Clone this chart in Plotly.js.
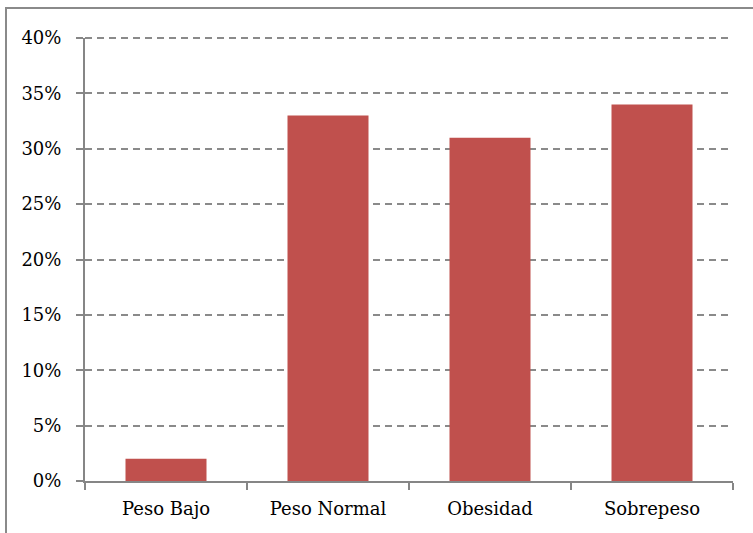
<!DOCTYPE html>
<html>
<head>
<meta charset="utf-8">
<script src="https://cdn.plot.ly/plotly-3.0.1.min.js"></script>
<style>html,body{margin:0;padding:0;background:#fff;}#chart{width:753px;height:533px;}</style>
</head>
<body>
<div id="chart"></div>
<script>
const categories = ["Peso Bajo", "Peso Normal", "Obesidad", "Sobrepeso"];
const values = [0.02, 0.33, 0.31, 0.34];
const yTickVals = [0, 0.05, 0.10, 0.15, 0.20, 0.25, 0.30, 0.35, 0.40];

const W = 753, H = 533;
const m = {l: 85, r: 20, t: 38, b: 52};
const pw = W - m.l - m.r, ph = H - m.t - m.b;
const px = v => (v - m.l) / pw;
const py = v => 1 - (v - m.t) / ph;
const yMax = yTickVals[yTickVals.length - 1];

const data = [{
  type: "bar",
  x: categories,
  y: values,
  marker: {color: "#C0504D"},
  hoverinfo: "x+y"
}];

const layout = {
  width: W, height: H,
  margin: m,
  paper_bgcolor: "#fff",
  plot_bgcolor: "#fff",
  showlegend: false,
  bargap: 0.5,
  font: {family: "DejaVu Serif", size: 18, color: "#000"},
  xaxis: {
    type: "category",
    showline: true, linecolor: "#868686", linewidth: 2,
    ticks: "outside", tickson: "boundaries", ticklen: 7, tickcolor: "#868686", tickwidth: 2,
    ticklabelstandoff: 10,
    showgrid: false, zeroline: false,
    fixedrange: true
  },
  yaxis: {
    range: [0, yMax],
    tickvals: yTickVals,
    tickformat: ".0%",
    showline: true, linecolor: "#868686", linewidth: 2,
    ticks: "outside", ticklen: 7, tickcolor: "#868686", tickwidth: 2,
    ticklabelstandoff: 11,
    showgrid: true, gridcolor: "#8a8a8a", gridwidth: 2, griddash: "7px,5px",
    zeroline: false,
    fixedrange: true
  },
  shapes: [{
    type: "line", xref: "paper", yref: "paper",
    x0: 0, x1: 1, y0: 1, y1: 1,
    line: {color: "#8a8a8a", width: 2, dash: "7px,5px"},
    layer: "below"
  }, {
    type: "rect", xref: "paper", yref: "paper",
    x0: px(6), x1: px(W + 20), y0: py(H + 20), y1: py(8),
    line: {color: "#8a8a8a", width: 2},
    fillcolor: "rgba(0,0,0,0)",
    layer: "above"
  }]
};

Plotly.newPlot("chart", data, layout, {displayModeBar: false, staticPlot: true});
</script>
</body>
</html>
